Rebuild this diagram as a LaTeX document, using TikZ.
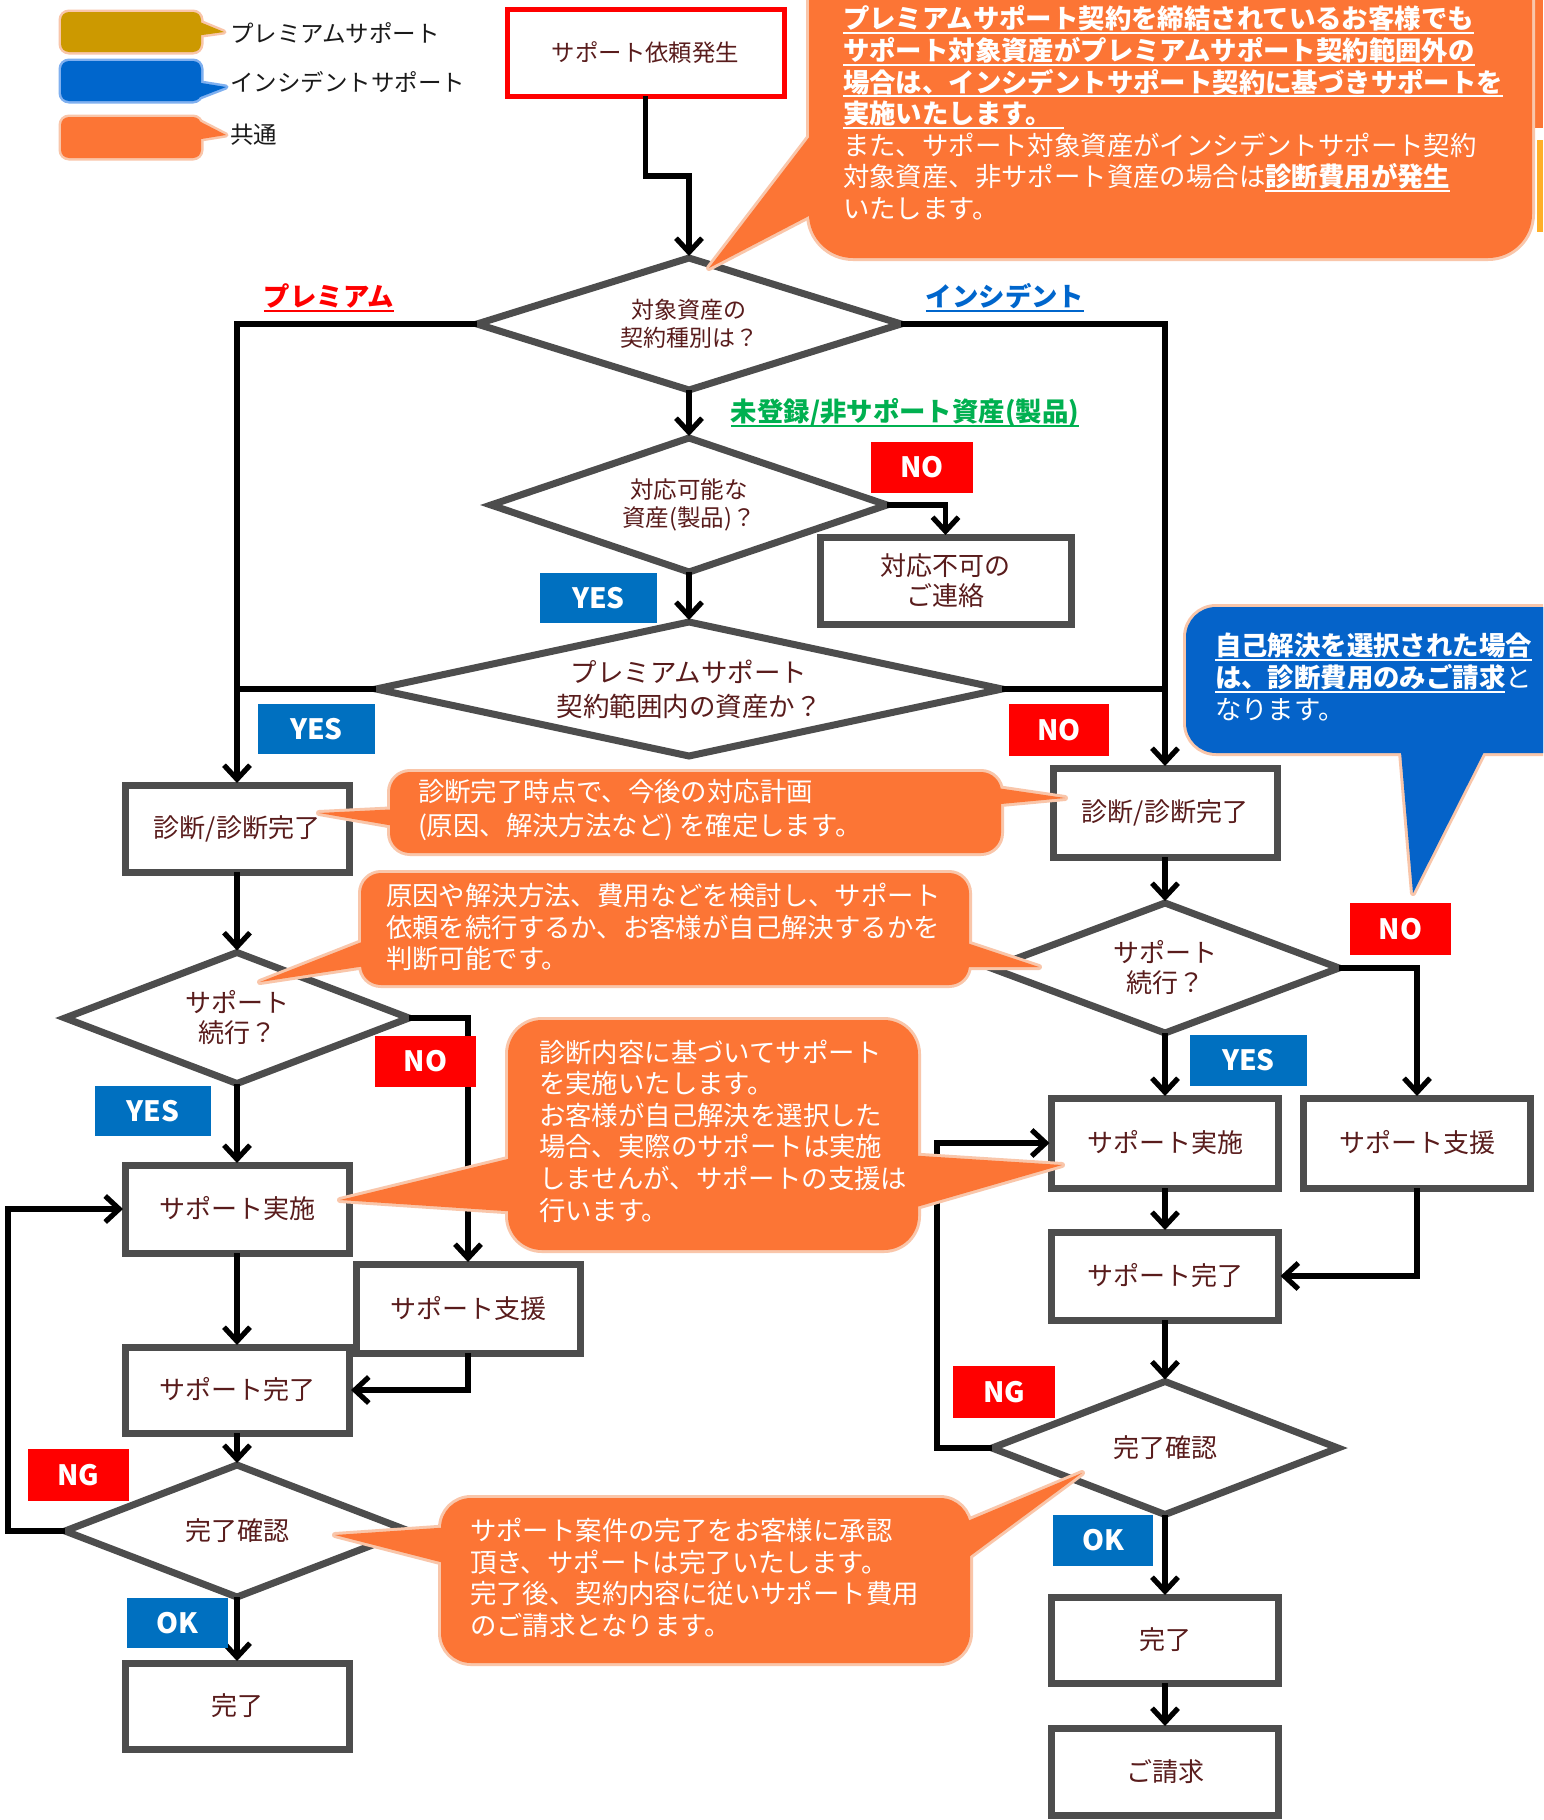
\documentclass[tikz,border=0pt]{standalone}
\usepackage{fontspec}
\setmainfont{Noto Sans CJK JP}
\usetikzlibrary{shapes.geometric,arrows.meta}
\definecolor{boxtext}{HTML}{591C1C}
\definecolor{boxborder}{HTML}{4D4D4D}
\definecolor{calor}{HTML}{FC7535}
\definecolor{calbd}{HTML}{F9C6AA}
\definecolor{calblue}{HTML}{0563C9}
\definecolor{lblblue}{HTML}{0070C0}
\definecolor{lblred}{HTML}{FF0000}
\definecolor{goldc}{HTML}{CC9900}
\definecolor{legblue}{HTML}{0066CC}
\definecolor{legbluebd}{HTML}{7FB0F0}
\definecolor{grnc}{HTML}{00B050}
\definecolor{incblue}{HTML}{0066CC}
\definecolor{legtext}{HTML}{1A1A1A}
\definecolor{yelc}{RGB}{255,175,40}
\newcommand{\myul}[1]{\setbox0\hbox{#1}\rlap{\rule[-2.6pt]{\wd0}{1.1pt}}\box0}
\tikzset{
  every node/.style={inner sep=0pt, outer sep=0pt},
  flowbox/.style={rectangle, draw=boxborder, line width=3.5pt, fill=white, text=boxtext, align=center, font=\fontsize{13}{15}\selectfont},
  dia/.style={diamond, draw=boxborder, line width=3.5pt, fill=white, text=boxtext, align=center, font=\fontsize{13}{15}\selectfont},
  lbl/.style={rectangle, text=white, font=\bfseries\fontsize{14}{14}\selectfont},
  lblyes/.style={lbl, fill=lblblue},
  lblno/.style={lbl, fill=lblred},
  arr/.style={draw=black, line width=2.6pt, shorten >=1pt, -{Straight Barb[length=7pt,width=13pt]}},
  conn/.style={draw=black, line width=2.6pt},
  ctext/.style={text=white, align=left, anchor=west, font=\fontsize{13.2}{15.8}\selectfont},
  cbd/.style={draw=calbd, line width=3pt, fill=calor, line join=round},
  legtxt/.style={anchor=west, text=legtext, font=\fontsize{11.75}{14}\selectfont},
}
\begin{document}
\begin{tikzpicture}[x=0.5pt,y=-0.5pt]
\path[use as bounding box] (0,0) rectangle (1543,1820);
\clip (0,0) rectangle (1543,1820);
\fill[white] (0,0) rectangle (1543,1820);

% right edge partial shape
\fill[calor] (1535,0) rectangle (1543,128);
\fill[yelc] (1537,140) rectangle (1543,232);

% legend
\path[draw=calbd, line width=2.5pt, fill=goldc, rounded corners=4pt] (61,12) rectangle (201,52);
\path[draw=calbd, line width=2.5pt, fill=goldc, line join=round] (195,20) -- (224,32) -- (195,36) -- cycle;
\fill[goldc, rounded corners=4pt] (61,12) rectangle (201,52);
\fill[goldc] (195,20) -- (224,32) -- (195,36) -- cycle;
\path[draw=legbluebd, line width=2.5pt, fill=legblue, rounded corners=4pt] (61,61) rectangle (201,101);
\path[draw=legbluebd, line width=2.5pt, fill=legblue, line join=round] (195,82) -- (226,87) -- (195,99) -- cycle;
\fill[legblue, rounded corners=4pt] (61,61) rectangle (201,101);
\fill[legblue] (195,82) -- (226,87) -- (195,99) -- cycle;
\path[draw=calbd, line width=2.5pt, fill=calor, rounded corners=4pt] (61,117) rectangle (201,158);
\path[draw=calbd, line width=2.5pt, fill=calor, line join=round] (195,119) -- (226,135) -- (195,140) -- cycle;
\fill[calor, rounded corners=4pt] (61,117) rectangle (201,158);
\fill[calor] (195,119) -- (226,135) -- (195,140) -- cycle;
\node[legtxt] (legp) at (230,33) {プレミアムサポート};
\node[legtxt] (legi) at (230,82) {インシデントサポート};
\node[legtxt] (legc) at (230,135) {共通};

% boxes
\node[flowbox, draw=lblred, line width=2.5pt, minimum width=138.5pt, minimum height=43.5pt, font=\fontsize{11.7}{14}\selectfont] (stbox) at (645.5,52.5) {サポート依頼発生};
\node[dia, aspect=3.2, minimum width=212pt, minimum height=66pt, font=\fontsize{11.5}{14}\selectfont] (d1) at (689,324) {対象資産の\\契約種別は？};
\node[dia, aspect=2.95, minimum width=198pt, minimum height=67pt, font=\fontsize{11.75}{14}\selectfont] (d2) at (689,505) {対応可能な\\資産(製品)？};
\node[dia, aspect=4.67, minimum width=313pt, minimum height=67pt, font=\fontsize{13.25}{17}\selectfont] (d3) at (689,689) {プレミアムサポート\\契約範囲内の資産か？};
\node[flowbox, minimum width=125.5pt, minimum height=43.5pt] (ngbox) at (945.5,580.5) {対応不可の\\ご連絡};
\node[flowbox, minimum width=112pt, minimum height=43.5pt] (ldiag) at (237,828.5) {診断/診断完了};
\node[flowbox, minimum width=112pt, minimum height=44.5pt] (rdiag) at (1165,812.5) {診断/診断完了};
\node[dia, aspect=2.6, minimum width=172pt, minimum height=65.5pt] (d4) at (237,1018) {サポート\\続行？};
\node[dia, aspect=2.6, minimum width=174pt, minimum height=65pt] (d5) at (1165,968) {サポート\\続行？};
\node[flowbox, minimum width=112pt, minimum height=44pt] (limpl) at (237,1209) {サポート実施};
\node[flowbox, minimum width=112pt, minimum height=44.5pt] (lsup) at (468,1308.5) {サポート支援};
\node[flowbox, minimum width=112pt, minimum height=43pt] (ldone) at (237,1390) {サポート完了};
\node[dia, aspect=2.6, minimum width=172pt, minimum height=66pt] (d7) at (237,1531) {完了確認};
\node[flowbox, minimum width=112pt, minimum height=43pt] (lend) at (237,1706) {完了};
\node[flowbox, minimum width=113.5pt, minimum height=45pt] (rimpl) at (1165,1143) {サポート実施};
\node[flowbox, minimum width=113.5pt, minimum height=45pt] (rsup) at (1417,1143) {サポート支援};
\node[flowbox, minimum width=113.5pt, minimum height=44pt] (rdone) at (1165,1276) {サポート完了};
\node[dia, aspect=2.6, minimum width=173pt, minimum height=66.5pt] (d6) at (1165,1448) {完了確認};
\node[flowbox, minimum width=113.5pt, minimum height=43pt] (rend) at (1165,1640) {完了};
\node[flowbox, minimum width=113.5pt, minimum height=43.5pt] (rbill) at (1165,1771.5) {ご請求};

% connectors
\draw[arr] (stbox.south) -- ++(0,80) -| (d1.north);
\draw[arr] (d1.west) -| (ldiag.north);
\draw[arr] (d1.east) -| (rdiag.north);
\draw[arr] (d1.south) -- (d2.north);
\draw[arr] (d2.east) -| (ngbox.north);
\draw[arr] (d2.south) -- (d3.north);
\draw[conn] (d3.west) -- (d3.west -| ldiag.north);
\draw[conn] (d3.east) -- (d3.east -| rdiag.north);
\draw[arr] (ldiag.south) -- (d4.north);
\draw[arr] (d4.east) -| (lsup.north);
\draw[arr] (d4.south) -- (limpl.north);
\draw[arr] (limpl.south) -- (ldone.north);
\draw[arr] (lsup.south) |- (ldone.east);
\draw[arr] (ldone.south) -- (d7.north);
\draw[arr] (d7.west) -- ++(-57,0) |- (limpl.west);
\draw[arr] (d7.south) -- (lend.north);
\draw[arr] (rdiag.south) -- (d5.north);
\draw[arr] (d5.east) -| (rsup.north);
\draw[arr] (d5.south) -- (rimpl.north);
\draw[arr] (rimpl.south) -- (rdone.north);
\draw[arr] (rsup.south) |- (rdone.east);
\draw[arr] (rdone.south) -- (d6.north);
\draw[arr] (d6.west) -- ++(-55,0) |- (rimpl.west);
\draw[arr] (d6.south) -- (rend.north);
\draw[arr] (rend.south) -- (rbill.north);

% branch labels
\node[text=lblred, font=\bfseries\fontsize{13.2}{15}\selectfont] (premlab) at (329,298) {\myul{プレミアム}};
\node[text=incblue, font=\bfseries\fontsize{13.2}{15}\selectfont] (inclab) at (1005,298) {\myul{インシデント}};
\node[text=grnc, font=\bfseries\fontsize{13.2}{15}\selectfont] (grnlab) at (905,413) {\myul{未登録/非サポート資産(製品)}};
\node[lblyes, minimum width=58.5pt, minimum height=25pt] (yes1) at (598.5,598) {YES};
\node[lblyes, minimum width=58.5pt, minimum height=25pt] (yes2) at (316.5,729) {YES};
\node[lblno, minimum width=51pt, minimum height=25.5pt] (no1) at (922,467.5) {NO};
\node[lblno, minimum width=50pt, minimum height=26pt] (no2) at (1059,730) {NO};
\node[lblno, minimum width=50.5pt, minimum height=25.5pt] (no3) at (425.5,1061.5) {NO};
\node[lblyes, minimum width=58pt, minimum height=25pt] (yes3) at (153,1111) {YES};
\node[lblno, minimum width=50.5pt, minimum height=26pt] (ngl) at (78.5,1475) {NG};
\node[lblyes, minimum width=50.5pt, minimum height=25pt] (okl) at (177.5,1623) {OK};
\node[lblno, minimum width=50.5pt, minimum height=26pt] (nor) at (1400.5,929) {NO};
\node[lblyes, minimum width=58.5pt, minimum height=25.5pt] (yesr) at (1248.5,1060.5) {YES};
\node[lblno, minimum width=51pt, minimum height=26pt] (ngr) at (1004,1392) {NG};
\node[lblyes, minimum width=50pt, minimum height=25.5pt] (okr) at (1103,1540.5) {OK};

% callouts
% top
\path[cbd, rounded corners=22pt] (809,-60) rectangle (1532,258);
\path[cbd] (830,110) -- (709,268) -- (830,205) -- cycle;
\fill[calor, rounded corners=22pt] (809,-60) rectangle (1532,258);
\fill[calor] (830,110) -- (709,268) -- (830,205) -- cycle;
\node[ctext] (ctop) at (843,113) {\textbf{\myul{プレミアムサポート契約を締結されているお客様でも}}\\
\textbf{\myul{サポート対象資産がプレミアムサポート契約範囲外の}}\\
\textbf{\myul{場合は、インシデントサポート契約に基づきサポートを}}\\
\textbf{\myul{実施いたします。\hspace{6pt}}}\\
また、サポート対象資産がインシデントサポート契約\\
対象資産、非サポート資産の場合は\textbf{\myul{診断費用が発生}}\\
いたします。};
% blue
\path[cbd, fill=calblue, rounded corners=15pt] (1186,607) rectangle (1620,753);
\path[cbd, fill=calblue] (1400,740) -- (1413,893) -- (1490,740) -- cycle;
\fill[calblue, rounded corners=15pt] (1186,607) rectangle (1620,753);
\fill[calblue] (1400,740) -- (1413,893) -- (1490,740) -- cycle;
\node[ctext] (cblue) at (1215,677) {\textbf{\myul{自己解決を選択された場合}}\\
\textbf{\myul{は、診断費用のみご請求}}と\\
なります。};
% c1
\path[cbd, rounded corners=10pt] (390,772) rectangle (1001,853);
\path[cbd] (400,809) -- (319,813) -- (400,827) -- cycle;
\path[cbd] (990,787) -- (1065,798) -- (990,805) -- cycle;
\fill[calor, rounded corners=10pt] (390,772) rectangle (1001,853);
\fill[calor] (400,809) -- (319,813) -- (400,827) -- cycle;
\fill[calor] (990,787) -- (1065,798) -- (990,805) -- cycle;
\node[ctext, font=\fontsize{13.2}{17}\selectfont] (c1t) at (418,810) {診断完了時点で、今後の対応計画\\(原因、解決方法など) を確定します。};
% c2
\path[cbd, rounded corners=10pt] (361,873) rectangle (969,985);
\path[cbd] (372,938) -- (260,982) -- (372,965) -- cycle;
\path[cbd] (958,940) -- (1039,967) -- (958,967) -- cycle;
\fill[calor, rounded corners=10pt] (361,873) rectangle (969,985);
\fill[calor] (372,938) -- (260,982) -- (372,965) -- cycle;
\fill[calor] (958,940) -- (1039,967) -- (958,967) -- cycle;
\node[ctext] (c2t) at (386,927) {原因や解決方法、費用などを検討し、サポート\\依頼を続行するか、お客様が自己解決するかを\\判断可能です。};
% c3
\path[cbd, rounded corners=17pt] (508,1020) rectangle (918,1250);
\path[cbd] (520,1156) -- (340,1200) -- (520,1212) -- cycle;
\path[cbd] (906,1155) -- (1062,1165) -- (906,1210) -- cycle;
\fill[calor, rounded corners=17pt] (508,1020) rectangle (918,1250);
\fill[calor] (520,1156) -- (340,1200) -- (520,1212) -- cycle;
\fill[calor] (906,1155) -- (1062,1165) -- (906,1210) -- cycle;
\node[ctext] (c3t) at (539,1131) {診断内容に基づいてサポート\\を実施いたします。\\お客様が自己解決を選択した\\場合、実際のサポートは実施\\しませんが、サポートの支援は\\行います。};
% c4
\path[cbd, rounded corners=15pt] (441,1498) rectangle (970,1663);
\path[cbd] (452,1527) -- (335,1535) -- (452,1565) -- cycle;
\path[cbd] (958,1525) -- (1082,1473) -- (958,1565) -- cycle;
\fill[calor, rounded corners=15pt] (441,1498) rectangle (970,1663);
\fill[calor] (452,1527) -- (335,1535) -- (452,1565) -- cycle;
\fill[calor] (958,1525) -- (1082,1473) -- (958,1565) -- cycle;
\node[ctext] (c4t) at (470,1578) {サポート案件の完了をお客様に承認\\頂き、サポートは完了いたします。\\完了後、契約内容に従いサポート費用\\のご請求となります。};
\end{tikzpicture}
\end{document}
